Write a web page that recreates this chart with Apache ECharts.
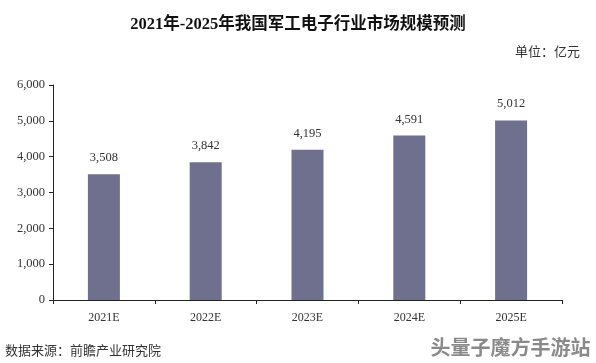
<!DOCTYPE html>
<html><head><meta charset="utf-8">
<script src="https://cdn.jsdelivr.net/npm/echarts@6/dist/echarts.min.js"></script>
<style>html,body{margin:0;padding:0;background:#fff}#c{width:596px;height:363px}</style>
</head><body><div id="c"></div>
<script>
const categories = ['2021E','2022E','2023E','2024E','2025E'];
const values = [3508, 3842, 4195, 4591, 5012];
const yTicks = [0, 1000, 2000, 3000, 4000, 5000, 6000];
const title = '2021年-2025年我国军工电子行业市场规模预测';
const unitText = '单位：亿元';
const sourceText = '数据来源：前瞻产业研究院';

const serif = '"Liberation Serif","DejaVu Serif","Noto Sans CJK SC",serif';
const chart = echarts.init(document.getElementById('c'));
chart.setOption({
  backgroundColor: '#fff',
  animation: false,
  title: [{
    text: title, left: 'center', top: 11,
    textStyle: { fontFamily: serif, fontSize: 16.5, fontWeight: 'bold', color: '#111' }
  }],
  graphic: [
    { type: 'text', right: 16, top: 46, style: { text: unitText, font: '13px ' + serif, fill: '#333' } },
    { type: 'text', left: 5, top: 345, style: { text: sourceText, font: '13px ' + serif, fill: '#333' } },
    { type: 'text', right: 5, top: 337, style: { text: '头量子魔方手游站', font: 'bold 20px "Noto Sans CJK SC",sans-serif', fill: '#8a8a8a', stroke: '#fff', lineWidth: 1 } }
  ],
  grid: { left: 53, right: 34, top: 85, bottom: 63 },
  xAxis: {
    type: 'category', data: categories,
    axisLine: { lineStyle: { color: '#222', width: 1 } },
    axisTick: { show: true, length: 4, lineStyle: { color: '#222' } },
    axisLabel: { fontFamily: serif, fontSize: 12, color: '#333', margin: 12 }
  },
  yAxis: {
    type: 'value', min: yTicks[0], max: yTicks[yTicks.length - 1], interval: 1000,
    axisLine: { show: true, lineStyle: { color: '#222', width: 1 } },
    axisTick: { show: true, length: 4, lineStyle: { color: '#222' } },
    splitLine: { show: false },
    axisLabel: { fontFamily: serif, fontSize: 12.5, color: '#333', margin: 8,
      formatter: v => v.toLocaleString('en-US') }
  },
  series: [{
    type: 'bar', data: values, barWidth: 32,
    itemStyle: { color: '#6f6f8e' },
    label: { show: true, position: 'top', distance: 10, fontFamily: serif, fontSize: 12.5, color: '#333',
      formatter: p => p.value.toLocaleString('en-US') }
  }]
});
</script></body></html>
